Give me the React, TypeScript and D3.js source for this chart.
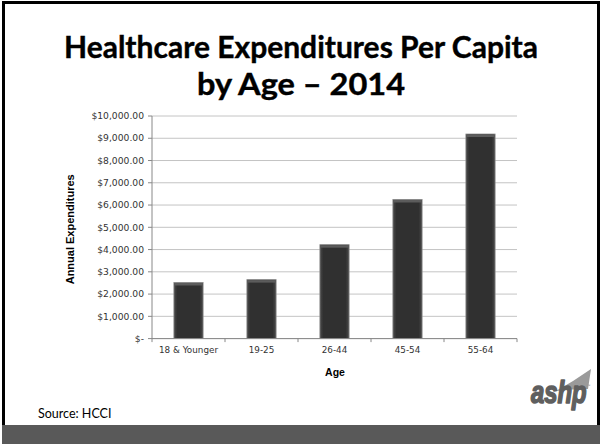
import React from 'react';
import * as d3 from 'd3';

const categories = ['18 & Younger', '19-25', '26-44', '45-54', '55-64'];
const values = [2520, 2650, 4220, 6250, 9190];
const yTicks = [0, 1000, 2000, 3000, 4000, 5000, 6000, 7000, 8000, 9000, 10000];
const titleLines = ['Healthcare Expenditures Per Capita', 'by Age \u2013 2014'];
const titleWidths = [474, 208];
const xAxisTitle = 'Age';
const yAxisTitle = 'Annual Expenditures';
const sourceText = 'Source: HCCI';
const logoText = 'ashp';

export default function App() {
  const W = 602;
  const H = 444;
  const left = 152, right = 517, top = 116, bottom = 338.6;
  const x = d3.scaleBand<string>().domain(categories).range([left, right]).paddingInner(0.6).paddingOuter(0.3);
  const y = d3.scaleLinear().domain([0, 10000]).range([bottom, top]);
  const fmt = (v: number) => (v === 0 ? '$-' : d3.format('$,.2f')(v));
  const step = x.step();
  const boundaries = d3.range(categories.length + 1).map((i) => left + i * step);
  const axisFont = '"DejaVu Sans", Verdana, sans-serif';

  return (
    <div style={{ position: 'absolute', left: 0, top: 0 }}>
      <svg width={W} height={H} viewBox={`0 0 ${W} ${H}`} style={{ display: 'block' }}>
        <defs>
          <linearGradient id="barGrad" x1="0" x2="1" y1="0" y2="0">
            <stop offset="0" stopColor="#4a4a4a" />
            <stop offset="0.12" stopColor="#303030" />
            <stop offset="0.88" stopColor="#303030" />
            <stop offset="1" stopColor="#4a4a4a" />
          </linearGradient>
        </defs>
        <rect x={0} y={0} width={W} height={H} fill="#fff" />
        {/* frame */}
        <rect x={3.5} y={2.5} width={595} height={430} fill="none" stroke="#000" strokeWidth={3} />
        <rect x={2} y={425} width={598} height={19} fill="#595959" />

        {/* title */}
        {titleLines.map((t, i) => (
          <text
            key={i}
            x={301 - titleWidths[i] / 2}
            y={58 + i * 37}
            textLength={titleWidths[i]}
            lengthAdjust="spacingAndGlyphs"
            fontFamily="Lato, 'Open Sans', sans-serif"
            fontWeight={700}
            fontSize={30}
            fill="#000"
            stroke="#000"
            strokeWidth={0.4}
          >
            {t}
          </text>
        ))}

        {/* gridlines */}
        {yTicks.map((v) => (
          <line key={'g' + v} x1={left} x2={right} y1={y(v)} y2={y(v)} stroke="#c4c4c4" strokeWidth={1} />
        ))}
        {/* y ticks */}
        {yTicks.map((v) => (
          <line key={'t' + v} x1={left - 4} x2={left} y1={y(v)} y2={y(v)} stroke="#888" strokeWidth={1} />
        ))}
        {yTicks.map((v) => (
          <text
            key={'l' + v}
            x={left - 8}
            y={y(v)}
            dy="0.35em"
            textAnchor="end"
            fontFamily={axisFont}
            fontSize={9.2}
            fill="#333"
          >
            {fmt(v)}
          </text>
        ))}

        {/* bars */}
        {categories.map((c, i) => {
          const bx = x(c)!;
          const bw = x.bandwidth();
          const by = y(values[i]);
          const bh = bottom - by;
          return (
            <g key={c}>
              <rect x={bx} y={by} width={bw} height={bh} fill="url(#barGrad)" stroke="#8a8a8a" strokeWidth={0.8} />
              <rect x={bx + 0.5} y={by + 0.5} width={bw - 1} height={2.5} fill="#5c5c5c" />
            </g>
          );
        })}

        {/* axes */}
        <line x1={left} x2={left} y1={top} y2={bottom} stroke="#888" strokeWidth={1} />
        <line x1={left} x2={right} y1={bottom} y2={bottom} stroke="#888" strokeWidth={1} />
        {boundaries.map((bx, i) => (
          <line key={'xb' + i} x1={bx} x2={bx} y1={bottom} y2={bottom + 3.5} stroke="#888" strokeWidth={1} />
        ))}
        {categories.map((c) => (
          <text
            key={'xl' + c}
            x={x(c)! + x.bandwidth() / 2}
            y={bottom + 14}
            textAnchor="middle"
            fontFamily={axisFont}
            fontSize={8.8}
            fill="#333"
          >
            {c}
          </text>
        ))}

        {/* axis titles */}
        <text x={335} y={376} textAnchor="middle" fontFamily="'Liberation Sans', Arial, sans-serif" fontWeight={700} fontSize={10.5} fill="#000">
          {xAxisTitle}
        </text>
        <text
          transform={`translate(74, ${(top + bottom) / 2 + 2}) rotate(-90)`}
          textAnchor="middle"
          fontFamily="'Liberation Sans', Arial, sans-serif"
          fontWeight={700}
          fontSize={11}
          fill="#000"
        >
          {yAxisTitle}
        </text>

        {/* source */}
        <text x={38} y={418} fontFamily="Lato, 'Open Sans', sans-serif" fontSize={12.5} fill="#000">
          {sourceText}
        </text>

        {/* logo */}
        <g>
          <path d="M556,391 Q574,381 591,369 L588,389 Q572,389 556,391 Z" fill="#9a9a9a" />
          <text
            transform="translate(531, 403) scale(0.77, 1)"
            fontFamily="'Liberation Sans', Arial, sans-serif"
            fontWeight={700}
            fontStyle="italic"
            fontSize={31}
            fill="#5f5f5f"
            stroke="#5f5f5f"
            strokeWidth={1.6}
            strokeLinejoin="round"
          >
            {logoText}
            <tspan fontSize={4} fontStyle="normal" fontWeight={400} fill="#888" stroke="none" dx={1} dy={-16}>
              ™
            </tspan>
          </text>
        </g>
      </svg>
    </div>
  );
}
